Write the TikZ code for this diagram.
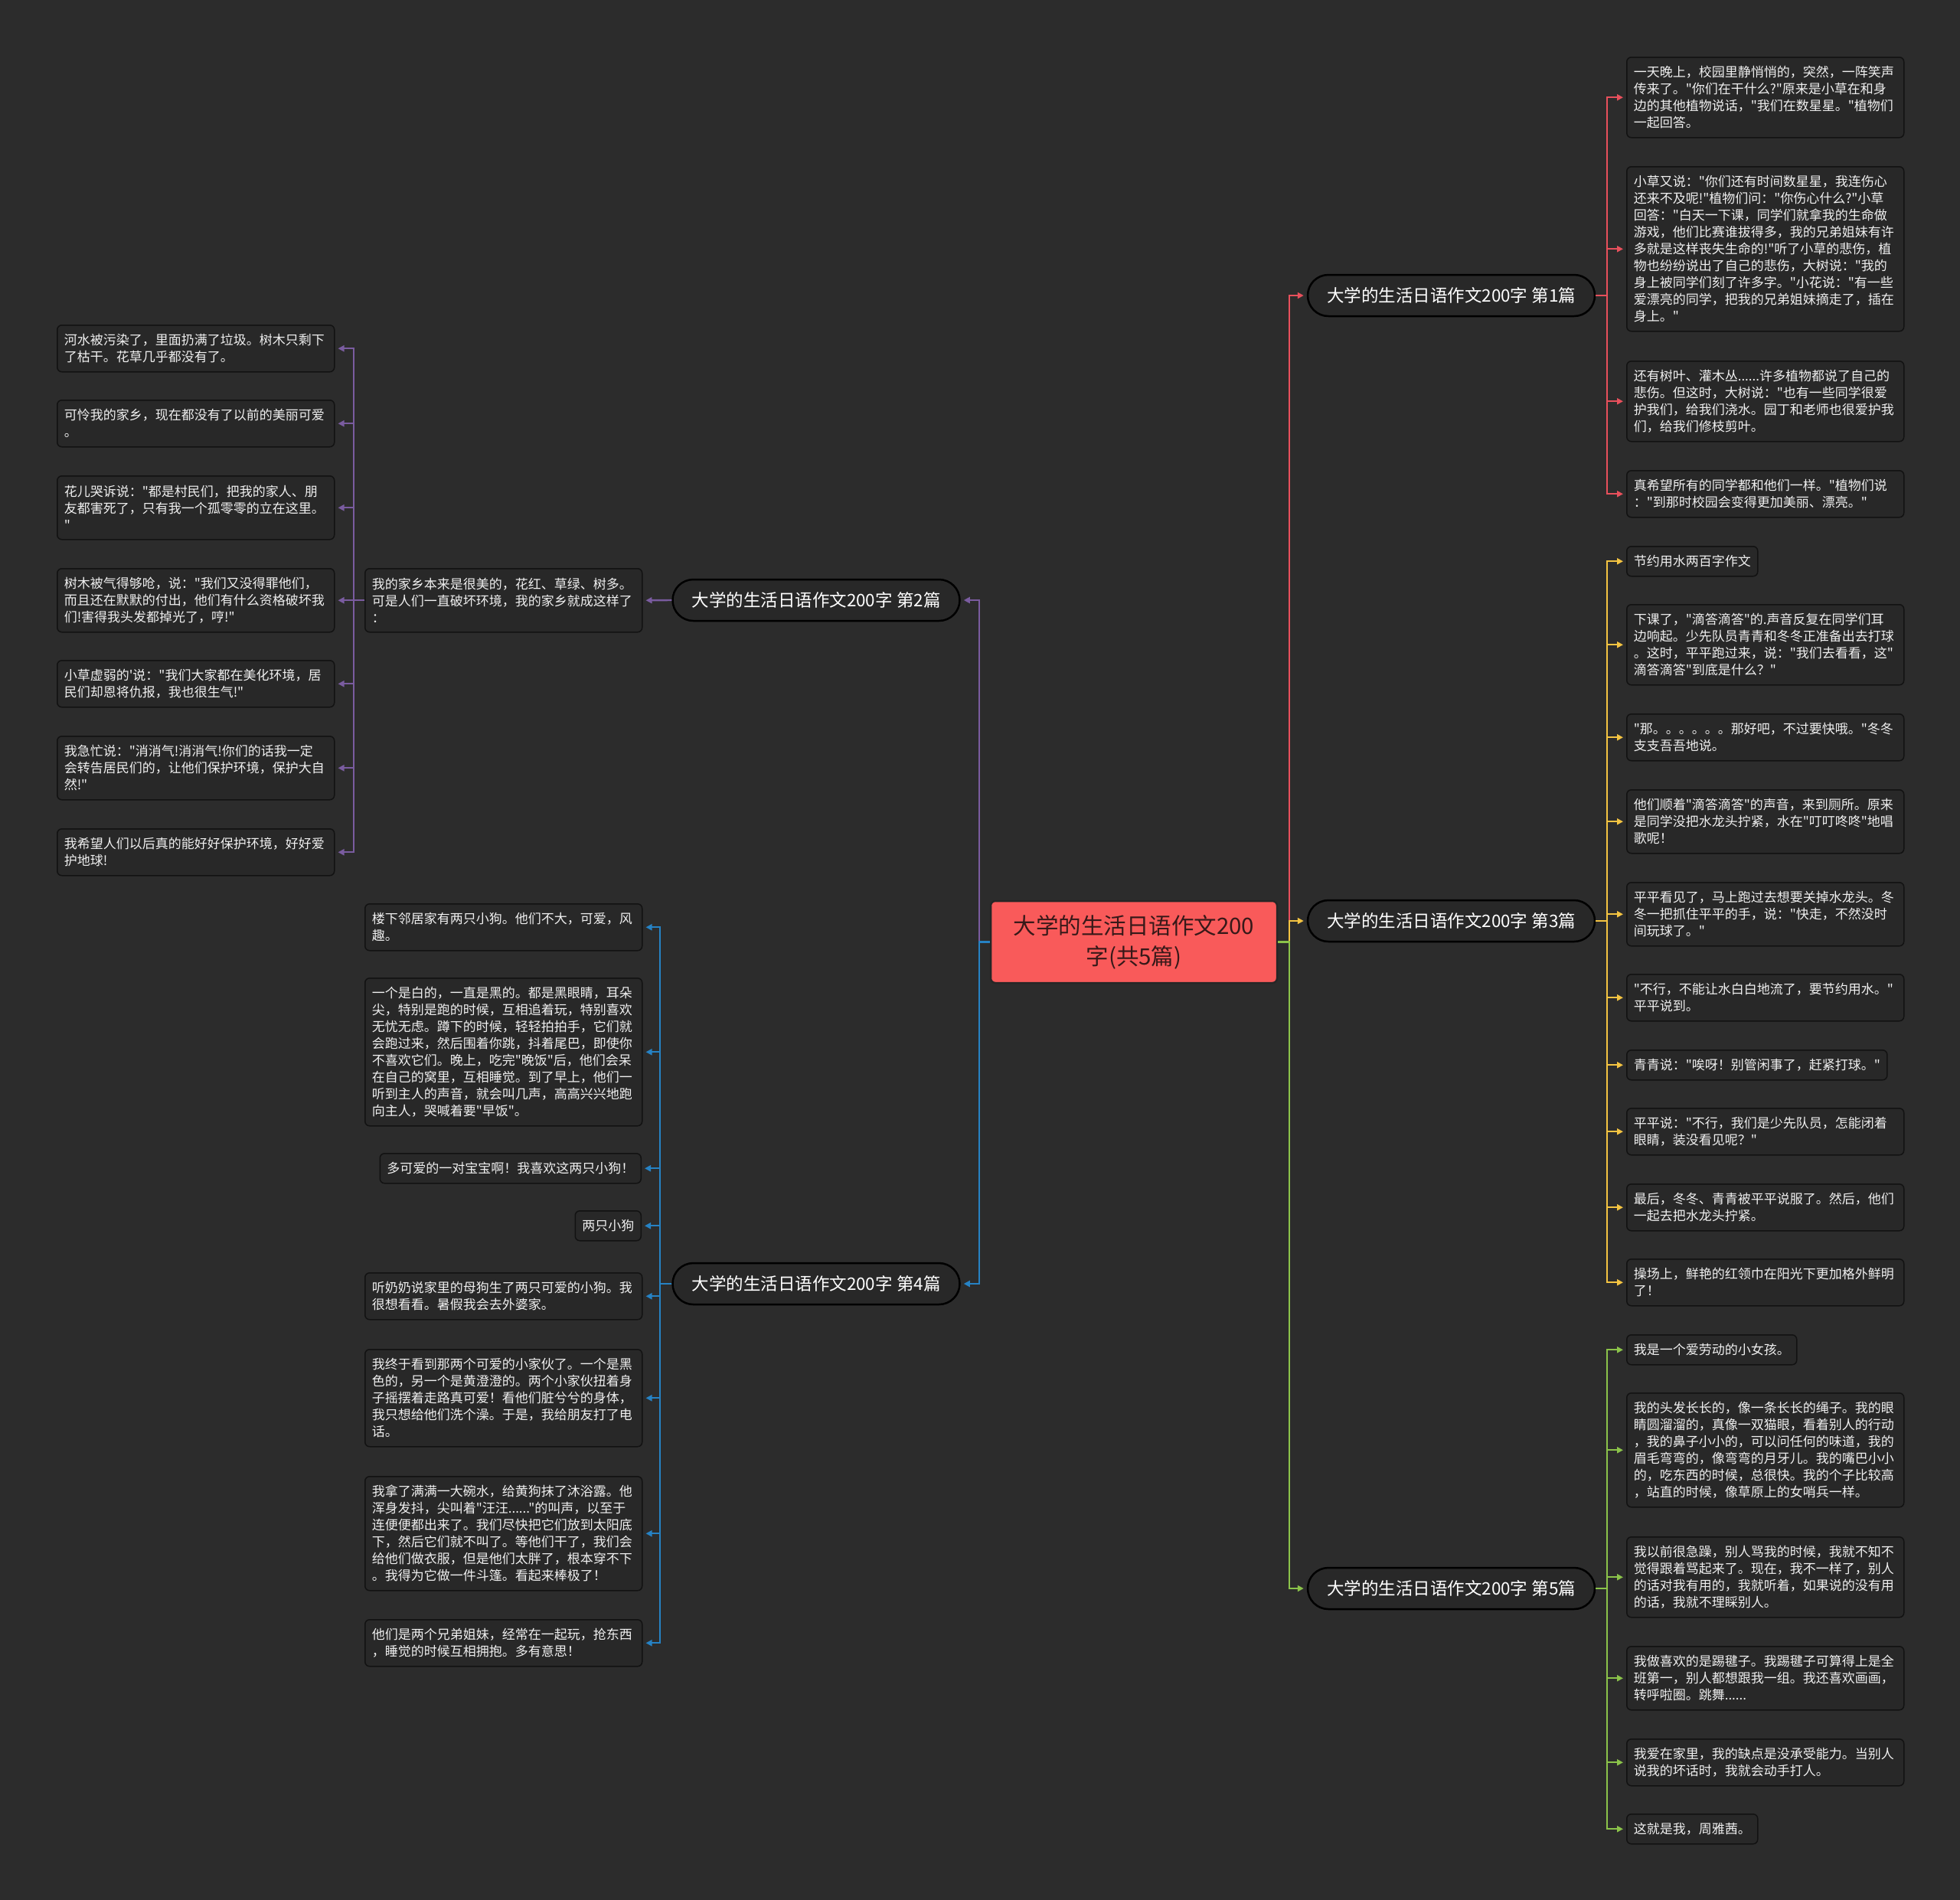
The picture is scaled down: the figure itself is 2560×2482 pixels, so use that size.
\documentclass[tikz,border=0pt]{standalone}
\usepackage{fontspec}
\newfontfamily\cjk{Noto Sans CJK SC}
\usetikzlibrary{arrows.meta}
\definecolor{bg}{RGB}{44,44,44}
\definecolor{leaffill}{RGB}{40,40,40}
\definecolor{leafline}{RGB}{18,18,18}
\definecolor{leaftext}{RGB}{240,240,240}
\definecolor{centerfill}{RGB}{249,90,90}
\definecolor{centertext}{RGB}{55,25,25}
\definecolor{cred}{RGB}{232,80,92}
\definecolor{cyel}{RGB}{244,196,66}
\definecolor{cgreen}{RGB}{139,195,74}
\definecolor{cpurple}{RGB}{122,92,160}
\definecolor{cblue}{RGB}{38,130,196}
\tikzset{
  leaf/.style={draw=leafline, line width=1.5pt, fill=leaffill, rounded corners=6pt, text=leaftext,
    font=\cjk\fontsize{17pt}{22pt}\selectfont, align=left, inner xsep=9pt, inner ysep=4pt},
  leafw/.style={leaf, text width=344pt},
  branchnode/.style={draw=black, line width=2.5pt, fill=leaffill, rounded corners=27pt,
    minimum width=375pt, minimum height=54pt, text=white, font=\cjk\fontsize{22.5pt}{27pt}\selectfont},
  centernode/.style={draw=black!85, line width=2.5pt, fill=centerfill, rounded corners=6pt,
    minimum width=374pt, minimum height=107pt, text=centertext, align=center,
    font=\cjk\fontsize{29.5pt}{40pt}\selectfont},
  conn/.style={line width=2.4pt, -{Triangle[length=8pt,width=8pt]}, shorten >=4pt},
  h1/.style={minimum height=39pt},
  h2/.style={minimum height=61pt},
  h3/.style={minimum height=83pt},
  h4/.style={minimum height=105pt},
  h5/.style={minimum height=127pt},
  h6/.style={minimum height=149pt},
  h8/.style={minimum height=193pt},
  h9/.style={minimum height=215pt},
}
\begin{document}
\begin{tikzpicture}[x=1pt,y=-1pt]
\fill[bg] (0,0) rectangle (2560,2482);
\useasboundingbox (0,0) rectangle (2560,2482);

% center
\node[centernode] (C) at (1481,1230.5) {大学的生活日语作文200\\字(共5篇)};

% branches
\node[branchnode] (B1) at (1895.5,386) {大学的生活日语作文200字 第1篇};
\node[branchnode] (B3) at (1895.5,1203) {大学的生活日语作文200字 第3篇};
\node[branchnode] (B5) at (1895.5,2075) {大学的生活日语作文200字 第5篇};
\node[branchnode] (B2) at (1066,784) {大学的生活日语作文200字 第2篇};
\node[branchnode] (B4) at (1066,1677) {大学的生活日语作文200字 第4篇};

% branch 1 leaves
\node[leafw,h4,anchor=north west] (R1) at (2124,74) {一天晚上，校园里静悄悄的，突然，一阵笑声\\传来了。"你们在干什么?"原来是小草在和身\\边的其他植物说话，"我们在数星星。"植物们\\一起回答。};
\node[leafw,h9,anchor=north west] (R2) at (2124,217) {小草又说："你们还有时间数星星，我连伤心\\还来不及呢!"植物们问："你伤心什么?"小草\\回答："白天一下课，同学们就拿我的生命做\\游戏，他们比赛谁拔得多，我的兄弟姐妹有许\\多就是这样丧失生命的!"听了小草的悲伤，植\\物也纷纷说出了自己的悲伤，大树说："我的\\身上被同学们刻了许多字。"小花说："有一些\\爱漂亮的同学，把我的兄弟姐妹摘走了，插在\\身上。"};
\node[leafw,h4,anchor=north west] (R3) at (2124,471) {还有树叶、灌木丛......许多植物都说了自己的\\悲伤。但这时，大树说："也有一些同学很爱\\护我们，给我们浇水。园丁和老师也很爱护我\\们，给我们修枝剪叶。};
\node[leafw,h2,anchor=north west] (R4) at (2124,614) {真希望所有的同学都和他们一样。"植物们说\\："到那时校园会变得更加美丽、漂亮。"};

% branch 3 leaves
\node[leaf,h1,anchor=north west] (Y1) at (2124,713) {节约用水两百字作文};
\node[leafw,h4,anchor=north west] (Y2) at (2124,789) {下课了，"滴答滴答"的.声音反复在同学们耳\\边响起。少先队员青青和冬冬正准备出去打球\\。这时，平平跑过来，说："我们去看看，这"\\滴答滴答"到底是什么？"};
\node[leafw,h2,anchor=north west] (Y3) at (2124,932) {"那。。。。。。那好吧，不过要快哦。"冬冬\\支支吾吾地说。};
\node[leafw,h3,anchor=north west] (Y4) at (2124,1031) {他们顺着"滴答滴答"的声音，来到厕所。原来\\是同学没把水龙头拧紧，水在"叮叮咚咚"地唱\\歌呢！};
\node[leafw,h3,anchor=north west] (Y5) at (2124,1152) {平平看见了，马上跑过去想要关掉水龙头。冬\\冬一把抓住平平的手，说："快走，不然没时\\间玩球了。"};
\node[leafw,h2,anchor=north west] (Y6) at (2124,1272) {"不行，不能让水白白地流了，要节约用水。"\\平平说到。};
\node[leaf,h1,anchor=north west] (Y7) at (2124,1371) {青青说："唉呀！别管闲事了，赶紧打球。"};
\node[leafw,h2,anchor=north west] (Y8) at (2124,1447) {平平说："不行，我们是少先队员，怎能闭着\\眼睛，装没看见呢？"};
\node[leafw,h2,anchor=north west] (Y9) at (2124,1546) {最后，冬冬、青青被平平说服了。然后，他们\\一起去把水龙头拧紧。};
\node[leafw,h2,anchor=north west] (Y10) at (2124,1644) {操场上，鲜艳的红领巾在阳光下更加格外鲜明\\了！};

% branch 5 leaves
\node[leaf,h1,anchor=north west] (G1) at (2124,1743) {我是一个爱劳动的小女孩。};
\node[leafw,h6,anchor=north west] (G2) at (2124,1819) {我的头发长长的，像一条长长的绳子。我的眼\\睛圆溜溜的，真像一双猫眼，看着别人的行动\\，我的鼻子小小的，可以问任何的味道，我的\\眉毛弯弯的，像弯弯的月牙儿。我的嘴巴小小\\的，吃东西的时候，总很快。我的个子比较高\\，站直的时候，像草原上的女哨兵一样。};
\node[leafw,h4,anchor=north west] (G3) at (2124,2007) {我以前很急躁，别人骂我的时候，我就不知不\\觉得跟着骂起来了。现在，我不一样了，别人\\的话对我有用的，我就听着，如果说的没有用\\的话，我就不理睬别人。};
\node[leafw,h3,anchor=north west] (G4) at (2124,2150) {我做喜欢的是踢毽子。我踢毽子可算得上是全\\班第一，别人都想跟我一组。我还喜欢画画，\\转呼啦圈。跳舞......};
\node[leafw,h2,anchor=north west] (G5) at (2124,2271) {我爱在家里，我的缺点是没承受能力。当别人\\说我的坏话时，我就会动手打人。};
\node[leaf,h1,anchor=north west] (G6) at (2124,2369) {这就是我，周雅茜。};

% branch 2
\node[leafw,h3,anchor=north west] (P0) at (476,742) {我的家乡本来是很美的，花红、草绿、树多。\\可是人们一直破坏环境，我的家乡就成这样了\\：};
\node[leafw,h2,anchor=north west] (P1) at (74,424) {河水被污染了，里面扔满了垃圾。树木只剩下\\了枯干。花草几乎都没有了。};
\node[leafw,h2,anchor=north west] (P2) at (74,522) {可怜我的家乡，现在都没有了以前的美丽可爱\\。};
\node[leafw,h3,anchor=north west] (P3) at (74,621) {花儿哭诉说："都是村民们，把我的家人、朋\\友都害死了，只有我一个孤零零的立在这里。\\"};
\node[leafw,h3,anchor=north west] (P4) at (74,742) {树木被气得够呛，说："我们又没得罪他们，\\而且还在默默的付出，他们有什么资格破坏我\\们!害得我头发都掉光了，哼!"};
\node[leafw,h2,anchor=north west] (P5) at (74,862) {小草虚弱的'说："我们大家都在美化环境，居\\民们却恩将仇报，我也很生气!"};
\node[leafw,h3,anchor=north west] (P6) at (74,961) {我急忙说："消消气!消消气!你们的话我一定\\会转告居民们的，让他们保护环境，保护大自\\然!"};
\node[leafw,h2,anchor=north west] (P7) at (74,1082) {我希望人们以后真的能好好保护环境，好好爱\\护地球!};

% branch 4
\node[leafw,h2,anchor=north west] (U1) at (476,1180) {楼下邻居家有两只小狗。他们不大，可爱，风\\趣。};
\node[leafw,h8,anchor=north west] (U2) at (476,1277) {一个是白的，一直是黑的。都是黑眼睛，耳朵\\尖，特别是跑的时候，互相追着玩，特别喜欢\\无忧无虑。蹲下的时候，轻轻拍拍手，它们就\\会跑过来，然后围着你跳，抖着尾巴，即使你\\不喜欢它们。晚上，吃完"晚饭"后，他们会呆\\在自己的窝里，互相睡觉。到了早上，他们一\\听到主人的声音，就会叫几声，高高兴兴地跑\\向主人，哭喊着要"早饭"。};
\node[leaf,h1,anchor=north east] (U3) at (838,1506) {多可爱的一对宝宝啊！我喜欢这两只小狗！};
\node[leaf,h1,anchor=north east] (U4) at (838,1581) {两只小狗};
\node[leafw,h2,anchor=north west] (U5) at (476,1662) {听奶奶说家里的母狗生了两只可爱的小狗。我\\很想看看。暑假我会去外婆家。};
\node[leafw,h5,anchor=north west] (U6) at (476,1762) {我终于看到那两个可爱的小家伙了。一个是黑\\色的，另一个是黄澄澄的。两个小家伙扭着身\\子摇摆着走路真可爱！看他们脏兮兮的身体，\\我只想给他们洗个澡。于是，我给朋友打了电\\话。};
\node[leafw,h6,anchor=north west] (U7) at (476,1928) {我拿了满满一大碗水，给黄狗抹了沐浴露。他\\浑身发抖，尖叫着"汪汪......"的叫声，以至于\\连便便都出来了。我们尽快把它们放到太阳底\\下，然后它们就不叫了。等他们干了，我们会\\给他们做衣服，但是他们太胖了，根本穿不下\\。我得为它做一件斗篷。看起来棒极了！};
\node[leafw,h2,anchor=north west] (U8) at (476,2115) {他们是两个兄弟姐妹，经常在一起玩，抢东西\\，睡觉的时候互相拥抱。多有意思！};

% connectors: center to branches
\draw[conn,cred] (C.east) -- ++(15,0) |- (B1.west);
\draw[conn,cyel] (C.east) -- ++(15,0) |- (B3.west);
\draw[conn,cgreen] (C.east) -- ++(15,0) |- (B5.west);
\draw[conn,cpurple] (C.west) -- ++(-14,0) |- (B2.east);
\draw[conn,cblue] (C.west) -- ++(-14,0) |- (B4.east);

% branch 1
\foreach \n in {R1,R2,R3,R4} \draw[conn,cred] (B1.east) -- ++(15,0) |- (\n.west);
% branch 3
\foreach \n in {Y1,Y2,Y3,Y4,Y5,Y6,Y7,Y8,Y9,Y10} \draw[conn,cyel] (B3.east) -- ++(15,0) |- (\n.west);
% branch 5
\foreach \n in {G1,G2,G3,G4,G5,G6} \draw[conn,cgreen] (B5.east) -- ++(15,0) |- (\n.west);
% branch 2
\draw[conn,cpurple] (B2.west) -- (P0.east);
\foreach \n in {P1,P2,P3,P4,P5,P6,P7} \draw[conn,cpurple] (P0.west) -- ++(-14,0) |- (\n.east);
% branch 4
\foreach \n in {U1,U2,U3,U4,U5,U6,U7,U8} \draw[conn,cblue] (B4.west) -- ++(-15,0) |- (\n.east);
\end{tikzpicture}
\end{document}
